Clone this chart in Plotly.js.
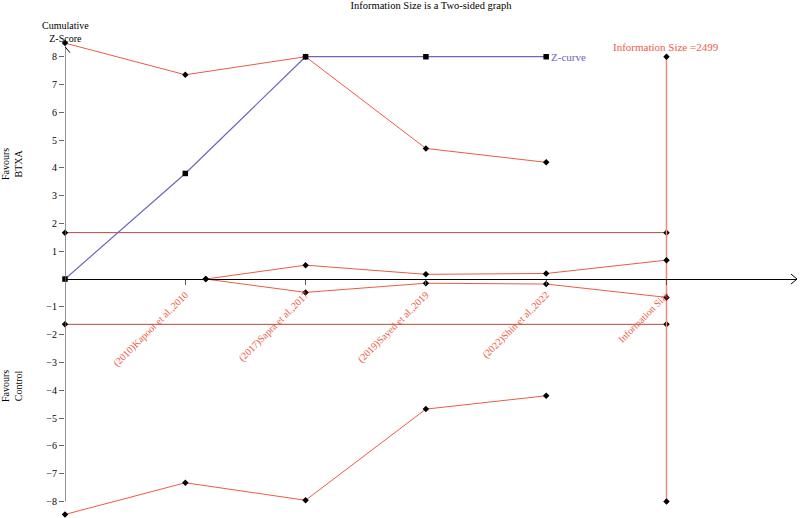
<!DOCTYPE html>
<html>
<head>
<meta charset="utf-8">
<script src="https://cdn.plot.ly/plotly-3.0.1.min.js"></script>
<style>html,body{margin:0;padding:0;background:#fff;}#chart{width:800px;height:518px;}</style>
</head>
<body>
<div id="chart"></div>
<script>
// ---- data ----
var studyTicks = ["(2010)Kapoor et al.,2010", "(2017)Sapra et al.,2017", "(2019)Sayed et al.,2019", "(2022)Shin et al.,2022", "Information Size"];
var tickPos = [1, 2, 3, 4, 5];
var studyX = [0, 1, 2, 3, 4];
var zCurve = [0, 3.80, 8.00, 8.00, 8.00];
var upperBoundary = [8.49, 7.35, 8.00, 4.70, 4.20];
var lowerBoundary = [-8.47, -7.33, -7.96, -4.68, -4.20];
var futilityX = [1.17, 2, 3, 4, 5];
var futilityUpper = [0, 0.50, 0.17, 0.20, 0.68];
var futilityLower = [0, -0.48, -0.15, -0.18, -0.66];
var conventionalX = [0, 5];
var conventionalUpper = [1.67, 1.67];
var conventionalLower = [-1.63, -1.63];
var infoSizeX = [5, 5];
var infoSizeY = [8, -8];
var yTicks = [-8, -7, -6, -5, -4, -3, -2, -1, 1, 2, 3, 4, 5, 6, 7, 8];
var informationSize = 2499;

var FONT = "Liberation Serif, Times New Roman, serif";
var RED = "#ee5a46";
var DARKRED = "#b34a3f";
var SALMON = "#f28a7c";
var BLUE = "#6a68bb";

var dia = {symbol: "diamond", size: 5, color: "#000"};
var sq = {symbol: "square", size: 5.5, color: "#000"};

var traces = [
  {x: conventionalX, y: conventionalUpper, mode: "lines+markers", line: {color: DARKRED, width: 1}, marker: dia, cliponaxis: false},
  {x: conventionalX, y: conventionalLower, mode: "lines+markers", line: {color: DARKRED, width: 1}, marker: dia, cliponaxis: false},
  {x: infoSizeX, y: infoSizeY, mode: "lines+markers", line: {color: SALMON, width: 1.5}, marker: dia, cliponaxis: false},
  {x: studyX, y: upperBoundary, mode: "lines+markers", line: {color: RED, width: 1}, marker: dia, cliponaxis: false},
  {x: studyX, y: lowerBoundary, mode: "lines+markers", line: {color: RED, width: 1}, marker: dia, cliponaxis: false},
  {x: futilityX, y: futilityUpper, mode: "lines+markers", line: {color: RED, width: 1}, marker: dia, cliponaxis: false},
  {x: futilityX, y: futilityLower, mode: "lines+markers", line: {color: RED, width: 1}, marker: dia, cliponaxis: false},
  {x: studyX, y: zCurve, mode: "lines+markers", line: {color: BLUE, width: 1.2}, marker: sq, cliponaxis: false}
];

var yMin = -8.598, yMax = 10.041;
var xMax = 6.085;

var layout = {
  width: 800, height: 518,
  margin: {l: 65, r: 3, t: 0, b: 0},
  paper_bgcolor: "#fff", plot_bgcolor: "#fff",
  showlegend: false,
  font: {family: FONT, size: 10, color: "#000"},
  title: {text: "Information Size is a Two-sided graph", font: {family: FONT, size: 10.5, color: "#000"},
          xref: "paper", x: 0.5, xanchor: "center", yref: "container", y: 0.989, yanchor: "middle"},
  xaxis: {
    range: [0, xMax], anchor: "free", position: (0 - yMin) / (yMax - yMin),
    showgrid: false, zeroline: false, showline: true, linecolor: "#000", linewidth: 1,
    tickmode: "array", tickvals: tickPos, ticktext: studyTicks, tickangle: -45,
    ticks: "outside", ticklen: 5, tickcolor: "#555", tickwidth: 1,
    tickfont: {family: FONT, size: 10, color: RED}, fixedrange: true
  },
  yaxis: {
    range: [yMin, yMax], showgrid: false, zeroline: false, showline: false,
    tickmode: "array", tickvals: yTicks, ticks: "outside", ticklen: 5, tickcolor: "#666", tickwidth: 1,
    tickfont: {family: FONT, size: 10, color: "#000"}, fixedrange: true
  },
  shapes: [
    {type: "line", xref: "x", yref: "y", x0: 0, x1: 0, y0: -8, y1: 8.36, line: {color: "#6e6e6e", width: 1.5}},
    {type: "path", xref: "x", yref: "y", xsizemode: "pixel", ysizemode: "pixel", xanchor: xMax, yanchor: 0,
     path: "M -6,5 L 0,0 L -6,-5", line: {color: "#000", width: 1}},
    {type: "path", xref: "x", yref: "y", xsizemode: "pixel", ysizemode: "pixel", xanchor: 0, yanchor: 8.36,
     path: "M -5,-6 L 0,0 L 5,-6", line: {color: "#000", width: 1}}
  ],
  annotations: [
    {text: "Cumulative<br>Z-Score", xref: "paper", yref: "paper", x: 0, y: 1 - 32/518, xanchor: "center", yanchor: "middle",
     showarrow: false, font: {family: FONT, size: 10, color: "#000"}},
    {text: "Favours<br>BTXA", xref: "paper", yref: "paper", x: -53/732, y: 1 - 164/518, xanchor: "center", yanchor: "middle",
     showarrow: false, textangle: -90, font: {family: FONT, size: 10, color: "#000"}},
    {text: "Favours<br>Control", xref: "paper", yref: "paper", x: -53/732, y: 1 - 386/518, xanchor: "center", yanchor: "middle",
     showarrow: false, textangle: -90, font: {family: FONT, size: 10, color: "#000"}},
    {text: "Z-curve", xref: "x", yref: "y", x: studyX[4], y: zCurve[4], xanchor: "left", yanchor: "middle", xshift: 3,
     showarrow: false, font: {family: FONT, size: 11, color: BLUE}},
    {text: "Information Size =" + informationSize, xref: "x", yref: "y", x: infoSizeX[0], y: infoSizeY[0], xanchor: "center", yanchor: "bottom", yshift: 2,
     showarrow: false, font: {family: FONT, size: 11, color: RED}}
  ]
};

Plotly.newPlot("chart", traces, layout, {displayModeBar: false, staticPlot: true});
</script>
</body>
</html>
